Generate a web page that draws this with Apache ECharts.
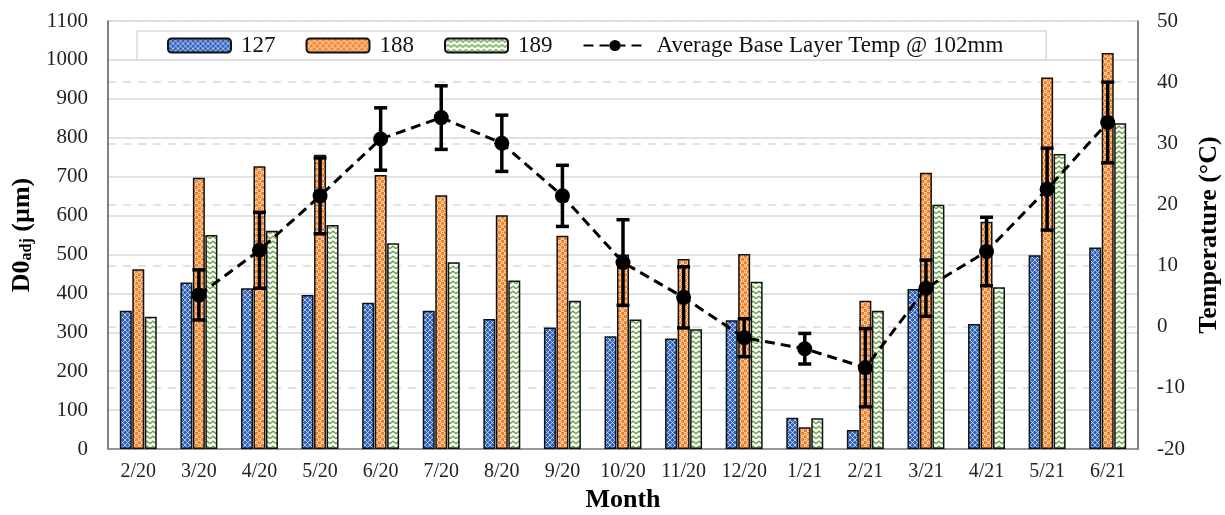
<!DOCTYPE html>
<html>
<head>
<meta charset="utf-8">
<script src="https://cdn.jsdelivr.net/npm/echarts@6/dist/echarts.min.js"></script>
<style>
  html, body { margin: 0; padding: 0; background: #fff; }
  #chart { width: 1225px; height: 515px; }
</style>
</head>
<body>
<div id="chart"></div>
<script>
// values
const months = ['2/20', '3/20', '4/20', '5/20', '6/20', '7/20', '8/20', '9/20', '10/20',
                '11/20', '12/20', '1/21', '2/21', '3/21', '4/21', '5/21', '6/21'];
const d127 = [355, 428, 413, 396, 376, 355, 334, 312, 290, 284, 331, 80, 49, 411, 321, 498, 518];
const d188 = [462, 697, 727, 756, 704, 652, 601, 548, 500, 488, 501, 56, 381, 710, 584, 955, 1018];
const d189 = [340, 550, 561, 576, 529, 480, 433, 381, 333, 308, 430, 79, 355, 628, 416, 758, 837];
// base layer temperature (°C) and its error bar half-range
const tempAvg = [null, 5.2, 12.5, 21.4, 30.7, 34.2, 30.0, 21.4, 10.5, 4.8, -1.8, -3.6, -6.7, 6.3, 12.3, 22.5, 33.4];
const tempErr = [null, 4.1, 6.2, 6.2, 5.1, 5.2, 4.6, 5.0, 7.0, 5.0, 3.1, 2.5, 6.4, 4.6, 5.6, 6.7, 6.6];
const yTicks = { left: [0, 1100, 100], right: [-20, 50, 10] };

const serif = '"Liberation Serif", "Times New Roman", serif';

function pattern(w, h, draw) {
  const c = document.createElement('canvas');
  c.width = w; c.height = h;
  draw(c.getContext('2d'));
  return { image: c, repeat: 'repeat' };
}

// blue with white lattice
const blueFill = pattern(5, 5, g => {
  g.fillStyle = '#2f63bd';
  g.fillRect(0, 0, 5, 5);
  g.strokeStyle = 'rgba(255,255,255,0.7)';
  g.lineWidth = 0.9;
  g.beginPath();
  g.moveTo(0, 0); g.lineTo(5, 5);
  g.moveTo(5, 0); g.lineTo(0, 5);
  g.stroke();
});
// orange with white rings
const orangeFill = pattern(6, 6, g => {
  g.fillStyle = '#f27b1c';
  g.fillRect(0, 0, 6, 6);
  g.strokeStyle = 'rgba(255,255,255,0.95)';
  g.lineWidth = 1;
  g.beginPath(); g.arc(1.5, 1.5, 1.3, 0, Math.PI * 2); g.stroke();
  g.beginPath(); g.arc(4.5, 4.5, 1.3, 0, Math.PI * 2); g.stroke();
});
// white with green chevrons
const greenFill = pattern(6, 5, g => {
  g.fillStyle = '#fff';
  g.fillRect(0, 0, 6, 5);
  g.strokeStyle = '#67a544';
  g.lineWidth = 1.4;
  g.beginPath();
  g.moveTo(0, 3.8); g.lineTo(3, 1.2); g.lineTo(6, 3.8);
  g.stroke();
});

const errData = [];
tempAvg.forEach((v, i) => {
  if (v != null) errData.push([i, v - tempErr[i], v + tempErr[i]]);
});

const barBase = {
  type: 'bar',
  barWidth: 12,
  barGap: '4%',
};

const chart = echarts.init(document.getElementById('chart'));
chart.setOption({
  animation: false,
  backgroundColor: '#fff',
  grid: { left: 108, right: 87, top: 21, bottom: 66, containLabel: false, outerBoundsMode: 'none' },
  legend: {
    left: 137,
    top: 31,
    padding: [3, 43, 3, 30],
    itemGap: 30,
    itemWidth: 63,
    itemHeight: 14,
    borderColor: '#d9d9d9',
    borderWidth: 1.5,
    backgroundColor: '#fff',
    textStyle: { fontFamily: serif, fontSize: 23, color: '#111', padding: [0, 0, 0, 5] },
    data: ['127', '188', '189', 'Average Base Layer Temp @ 102mm'],
  },
  xAxis: {
    type: 'category',
    data: months,
    axisLine: { lineStyle: { color: '#808080', width: 1.5 } },
    axisTick: { length: 6, lineStyle: { color: '#808080', width: 1.5 } },
    axisLabel: { fontFamily: serif, fontSize: 20, color: '#222', margin: 13 },
    name: 'Month',
    nameLocation: 'middle',
    nameGap: 38,
    nameTextStyle: { fontFamily: serif, fontSize: 26, fontWeight: 'bold', color: '#000' },
  },
  yAxis: [
    {
      type: 'value',
      min: yTicks.left[0], max: yTicks.left[1], interval: yTicks.left[2],
      axisLine: { show: true, lineStyle: { color: '#595959', width: 1.5 } },
      axisTick: { show: false },
      splitLine: { lineStyle: { color: '#d9d9d9', width: 1.5 } },
      axisLabel: { fontFamily: serif, fontSize: 21, color: '#222', margin: 20, formatter: v => String(v) },
      name: '{a|D0}{b|adj}{a| (µm)}',
      nameLocation: 'middle',
      nameGap: 65,
      nameRotate: 90,
      nameTextStyle: {
        rich: {
          a: { fontFamily: serif, fontSize: 26, fontWeight: 'bold', color: '#000' },
          b: { fontFamily: serif, fontSize: 16, fontWeight: 'bold', color: '#000', verticalAlign: 'bottom', padding: [10, 0, 0, 0] },
        },
      },
    },
    {
      type: 'value',
      position: 'right',
      min: yTicks.right[0], max: yTicks.right[1], interval: yTicks.right[2],
      axisLine: { show: true, lineStyle: { color: '#595959', width: 1.5 } },
      axisTick: { show: false },
      splitLine: { lineStyle: { color: '#d9d9d9', width: 1.5, type: [8, 7] } },
      axisLabel: { fontFamily: serif, fontSize: 21, color: '#222', margin: 19 },
      name: 'Temperature (°C)',
      nameLocation: 'middle',
      nameGap: 51,
      nameRotate: 90,
      nameTextStyle: { fontFamily: serif, fontSize: 26, fontWeight: 'bold', color: '#000' },
    },
  ],
  series: [
    Object.assign({}, barBase, {
      name: '127', data: d127,
      itemStyle: { color: blueFill, borderColor: '#111', borderWidth: 1.5 },
    }),
    Object.assign({}, barBase, {
      name: '188', data: d188,
      itemStyle: { color: orangeFill, borderColor: '#111', borderWidth: 1.5 },
    }),
    Object.assign({}, barBase, {
      name: '189', data: d189,
      itemStyle: { color: greenFill, borderColor: '#111', borderWidth: 1.5 },
    }),
    {
      type: 'custom',
      yAxisIndex: 1,
      z: 4,
      silent: true,
      data: errData,
      encode: { x: 0, y: [1, 2] },
      renderItem(params, api) {
        const lo = api.coord([api.value(0), api.value(1)]);
        const hi = api.coord([api.value(0), api.value(2)]);
        const hw = 6.5;
        const st = { stroke: '#000', lineWidth: 3.5 };
        return {
          type: 'group',
          children: [
            { type: 'line', shape: { x1: lo[0], y1: lo[1], x2: hi[0], y2: hi[1] }, style: st },
            { type: 'line', shape: { x1: lo[0] - hw, y1: lo[1], x2: lo[0] + hw, y2: lo[1] }, style: st },
            { type: 'line', shape: { x1: hi[0] - hw, y1: hi[1], x2: hi[0] + hw, y2: hi[1] }, style: st },
          ],
        };
      },
    },
    {
      name: 'Average Base Layer Temp @ 102mm',
      type: 'line',
      yAxisIndex: 1,
      z: 5,
      data: tempAvg,
      symbol: 'circle',
      symbolSize: 15,
      itemStyle: { color: '#000' },
      lineStyle: { color: '#000', width: 3, type: [10, 6] },
    },
  ],
});
</script>
</body>
</html>
